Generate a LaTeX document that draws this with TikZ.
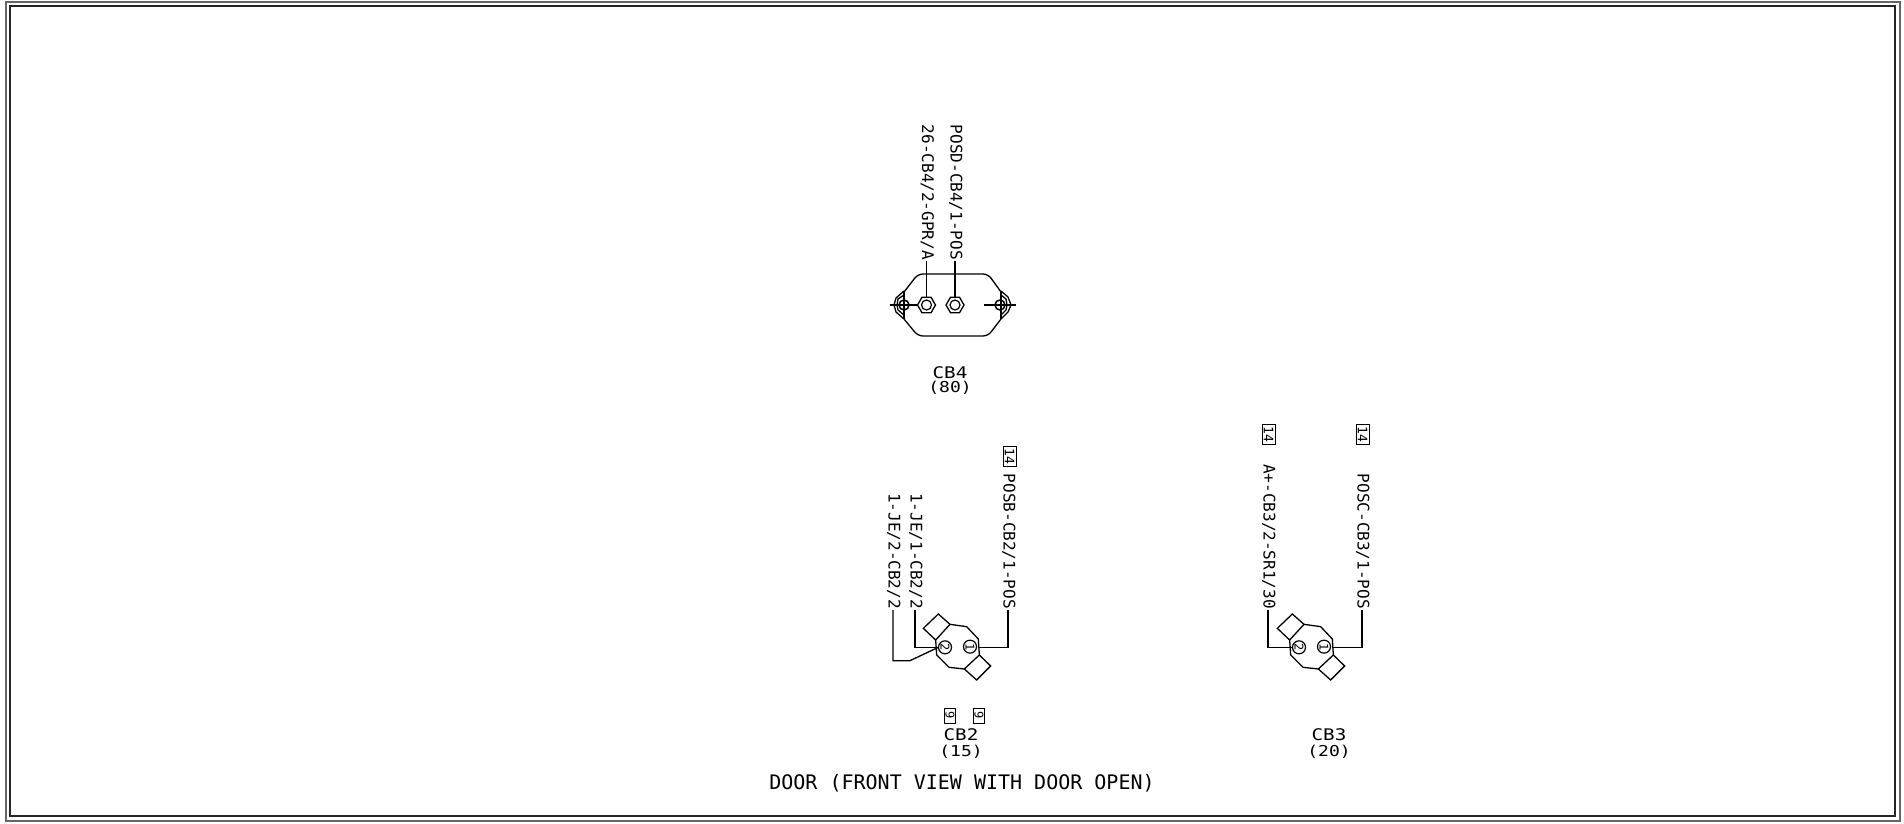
\documentclass[tikz,border=0pt]{standalone}
\usepackage{fontspec}
\setmainfont{DejaVu Sans Mono}
\newfontfamily\titlefont[FakeStretch=1.2]{DejaVu Sans Mono}
\usetikzlibrary{shapes.geometric}
\tikzset{
  ln/.style={line width=1.3pt,black},
  wirelabel/.style={rotate=-90,anchor=east,inner sep=1pt,font=\fontsize{16}{16}\selectfont,text height=9pt,text depth=0pt},
  tag/.style={rotate=-90,draw,line width=1pt,inner sep=0pt,font=\fontsize{13}{13}\selectfont,minimum width=20pt,minimum height=13pt,text height=9.5pt,text depth=0pt},
  tagn/.style={rotate=-90,draw,line width=1pt,inner sep=0pt,font=\fontsize{12}{12}\selectfont,minimum width=15pt,minimum height=11pt,text height=8.8pt,text depth=0pt},
  title/.style={font=\titlefont\fontsize{16}{16}\selectfont,inner sep=0pt,text height=11.7pt,text depth=0pt},
  subtitle/.style={font=\titlefont\fontsize{15}{15}\selectfont,inner sep=0pt,text height=11pt,text depth=0pt},
  pin/.style={circle,draw,line width=1.2pt,minimum size=13pt,inner sep=0pt,rotate=-90,font=\fontsize{12}{12}\selectfont,text height=8.8pt,text depth=0pt},
  nut/.style={regular polygon,regular polygon sides=6,draw,line width=1.3pt,minimum size=18pt,inner sep=0pt},
  nuthole/.style={circle,draw,line width=1.2pt,minimum size=10pt,inner sep=0pt},
  screw/.style={circle,draw,line width=1.5pt,minimum size=10pt,inner sep=0pt},
}
\begin{document}
\begin{tikzpicture}[x=1pt,y=-1pt,line join=miter]
\useasboundingbox (0,0) rectangle (1904,824);
\fill[white] (0,0) rectangle (1904,824);
% frame
\draw[line width=2pt,black!60] (6,2) rectangle (1900,821);
\draw[line width=1.4pt,black!85] (10,6) rectangle (1895,816);
\node[font=\fontsize{20}{20}\selectfont,inner sep=0pt,text height=14.6pt,text depth=0pt] (cap) at (962,782.5) {DOOR (FRONT VIEW WITH DOOR OPEN)};
% CB4
\node[wirelabel] (la) at (926.5,261) {26-CB4/2-GPR/A};
\node[wirelabel] (lb) at (955,261) {POSD-CB4/1-POS};
\node[title] (cb4) at (950,373) {CB4};
\node[subtitle] (cb4a) at (950,387) {(80)};
\draw[ln,rounded corners=5pt] (904,292) -- (918,274) -- (988,274) -- (1001,292);
\draw[ln,rounded corners=5pt] (904,319) -- (918,336) -- (988,336) -- (1001,319);
\draw[ln] (904,292) -- (904,319);
\draw[ln] (1001,292) -- (1001,319);
\node[nut] (na) at (926.5,305) {};
\node[nut] (nb) at (955,305) {};
\node[nuthole] at (na) {};
\node[nuthole] at (nb) {};
\node[screw] (sl) at (904,305) {};
\node[screw] (sr) at (1000,305) {};
\coordinate (el) at (890,305);
\coordinate (er) at (1016,305);
\coordinate (ir) at (984,305);
\draw[ln] (el) -- (na.west);
\draw[ln] (ir) -- (er);
\draw[ln] (904,291) -- (896,298) -- (894,305) -- (896,312) -- (904,319);
\draw[ln] (904,295) -- (898,299) -- (897,305) -- (898,310) -- (904,315);
\draw[ln] (1001,291) -- (1008,297) -- (1011,305) -- (1008,312) -- (1001,319);
\draw[ln] (1001,295) -- (1006,299) -- (1007,305) -- (1006,310) -- (1001,315);
\draw[ln] (la.east) -- (na.north);
\draw[ln] (lb.east) -- (nb.north);
% CB2
\begin{scope}[shift={(870,590)},x=0.3333pt,y=-0.3333pt]
\draw[ln] (240,103) -- (290,110) -- (325,147) -- (328,195) -- (283,237) -- (237,232) -- (200,195) -- (197,150) -- cycle;
\draw[ln] (197,150) -- (160,115) -- (205,72) -- (240,103);
\draw[ln] (283,237) -- (320,270) -- (362,228) -- (328,195);
\node[pin] (p22) at (225,172) {2};
\node[pin] (p21) at (300,170) {1};
\coordinate (c2r) at (328,172);
\coordinate (c2l) at (205,172);
\coordinate (c2b) at (120,212);
\end{scope}
\node[wirelabel] (l1) at (1008,610) {POSB-CB2/1-POS};
\node[wirelabel] (l2) at (915,610) {1-JE/1-CB2/2};
\node[wirelabel] (l3) at (893,610) {1-JE/2-CB2/2};
\node[tag] (t1) at (1009.5,456) {14};
\draw[ln] (l1.east) |- (c2r);
\draw[ln] (l2.east) |- (c2l);
\draw[ln] (l3.east) |- (c2b) -- (c2l);
\node[tagn] (n1) at (950,715.5) {9};
\node[tagn] (n2) at (979,715.5) {9};
\node[title] (cb2) at (961,735) {CB2};
\node[subtitle] (cb2a) at (961,751) {(15)};
% CB3
\begin{scope}[shift={(1224,590)},x=0.3333pt,y=-0.3333pt]
\draw[ln] (240,103) -- (290,110) -- (325,147) -- (328,195) -- (283,237) -- (237,232) -- (200,195) -- (197,150) -- cycle;
\draw[ln] (197,150) -- (160,115) -- (205,72) -- (240,103);
\draw[ln] (283,237) -- (320,270) -- (362,228) -- (328,195);
\node[pin] (p32) at (225,172) {2};
\node[pin] (p31) at (300,170) {1};
\coordinate (c3r) at (328,172);
\coordinate (c3l) at (205,172);
\end{scope}
\node[wirelabel] (l4) at (1268,610) {A+-CB3/2-SR1/30};
\node[wirelabel] (l5) at (1362,610) {POSC-CB3/1-POS};
\node[tag] (t2) at (1268.5,434) {14};
\node[tag] (t3) at (1362.5,434) {14};
\draw[ln] (l4.east) |- (c3l);
\draw[ln] (l5.east) |- (c3r);
\node[title] (cb3) at (1329,735) {CB3};
\node[subtitle] (cb3a) at (1329,751) {(20)};
\end{tikzpicture}
\end{document}
